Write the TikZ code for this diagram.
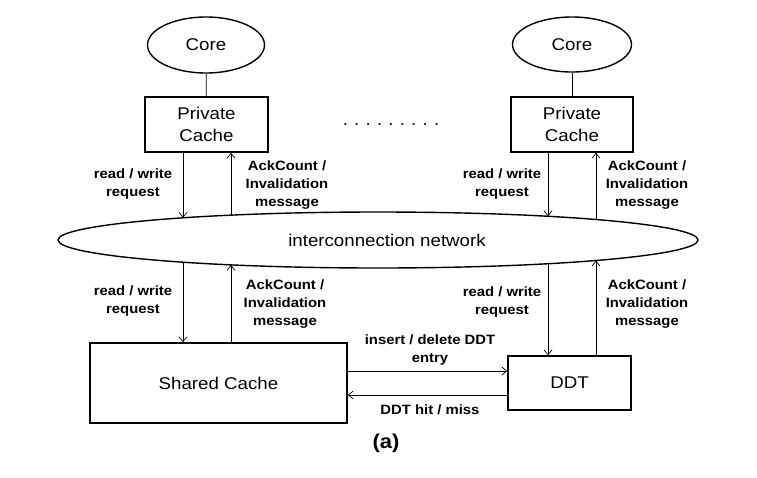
\documentclass[tikz,border=0pt]{standalone}
\usepackage{fontspec}
\setmainfont[FakeStretch=1.1]{Liberation Sans}
\usetikzlibrary{shapes.geometric,arrows.meta}
\begin{document}
\begin{tikzpicture}[x=1pt,y=-1pt,
  box/.style={draw,line width=1.4pt,inner sep=0pt,align=center,font=\fontsize{17}{22}\selectfont},
  oval/.style={draw,ellipse,line width=1.4pt,inner sep=0pt,font=\fontsize{17}{22}\selectfont},
  lbl/.style={align=center,inner sep=0pt,font=\bfseries\fontsize{13.5}{18}\selectfont},
  arr/.style={line width=0.7pt,-{Straight Barb[length=5pt,width=8pt]}},
  link/.style={line width=0.7pt}]
\useasboundingbox (0,0) rectangle (757,477);
% top row
\node[oval,minimum width=117pt,minimum height=56pt] (coreL) at (206,45) {Core};
\node[oval,minimum width=119pt,minimum height=55pt] (coreR) at (572,44.5) {Core};
\node[box,minimum width=123pt,minimum height=55pt] (pcL) at (206.5,124.5) {Private\\Cache};
\node[box,minimum width=122pt,minimum height=55pt] (pcR) at (572,124.5) {Private\\Cache};
\node[anchor=base,inner sep=0pt,font=\fontsize{17}{22}\selectfont] (dots) at (391,125)
  {.\hspace{6.2pt}.\hspace{6.2pt}.\hspace{6.2pt}.\hspace{6.2pt}.\hspace{6.2pt}.\hspace{6.2pt}.\hspace{6.2pt}.\hspace{6.2pt}.};
\draw[link] (coreL) -- (pcL);
\draw[link] (coreR) -- (pcR);
% network
\node[oval,minimum width=640pt,minimum height=56pt] (net) at (378,240) {};
\node[inner sep=0pt,font=\fontsize{17}{22}\selectfont] (nettxt) at (387,240) {interconnection network};
\coordinate (t1) at (183,217.8);
\coordinate (t2) at (231,215.1);
\coordinate (t3) at (548,216.3);
\coordinate (t4) at (596,219.5);
\coordinate (b1) at (183,262.2);
\coordinate (b2) at (231,264.9);
\coordinate (b3) at (548,263.7);
\coordinate (b4) at (596,260.5);
% bottom row
\node[box,minimum width=257pt,minimum height=80pt] (sc) at (218.5,383) {Shared Cache};
\node[box,minimum width=123pt,minimum height=54pt] (ddt) at (569.5,383) {DDT};
% arrows top
\draw[arr] (pcL.south -| t1) -- (t1);
\draw[arr] (t2) -- (pcL.south -| t2);
\draw[arr] (pcR.south -| t3) -- (t3);
\draw[arr] (t4) -- (pcR.south -| t4);
% arrows bottom
\draw[arr] (b1) -- (sc.north -| b1);
\draw[arr] (sc.north -| b2) -- (b2);
\draw[arr] (b3) -- (ddt.north -| b3);
\draw[arr] (ddt.north -| b4) -- (b4);
% horizontal
\draw[arr] ([yshift=12pt]sc.east) -- ([yshift=12pt]sc.east -| ddt.west);
\draw[arr] ([yshift=-12pt]ddt.west) -- ([yshift=-12pt]ddt.west -| sc.east);
% labels
\node[lbl] (l1) at (133,184) {read / write\\request};
\node[lbl] (l2) at (287,185) {AckCount /\\Invalidation\\message};
\node[lbl] (l3) at (502,184) {read / write\\request};
\node[lbl] (l4) at (647,185) {AckCount /\\Invalidation\\message};
\node[lbl] (l5) at (133,301) {read / write\\request};
\node[lbl] (l6) at (285,304) {AckCount /\\Invalidation\\message};
\node[lbl] (l7) at (502,302) {read / write\\request};
\node[lbl] (l8) at (647,304) {AckCount /\\Invalidation\\message};
\node[lbl] (l9) at (430,350) {insert / delete DDT\\entry};
\node[lbl] (l10) at (430,410) {DDT hit / miss};
\node[inner sep=0pt,font=\bfseries\fontsize{20}{24}\selectfont] (cap) at (386,443) {(a)};
\end{tikzpicture}
\end{document}
